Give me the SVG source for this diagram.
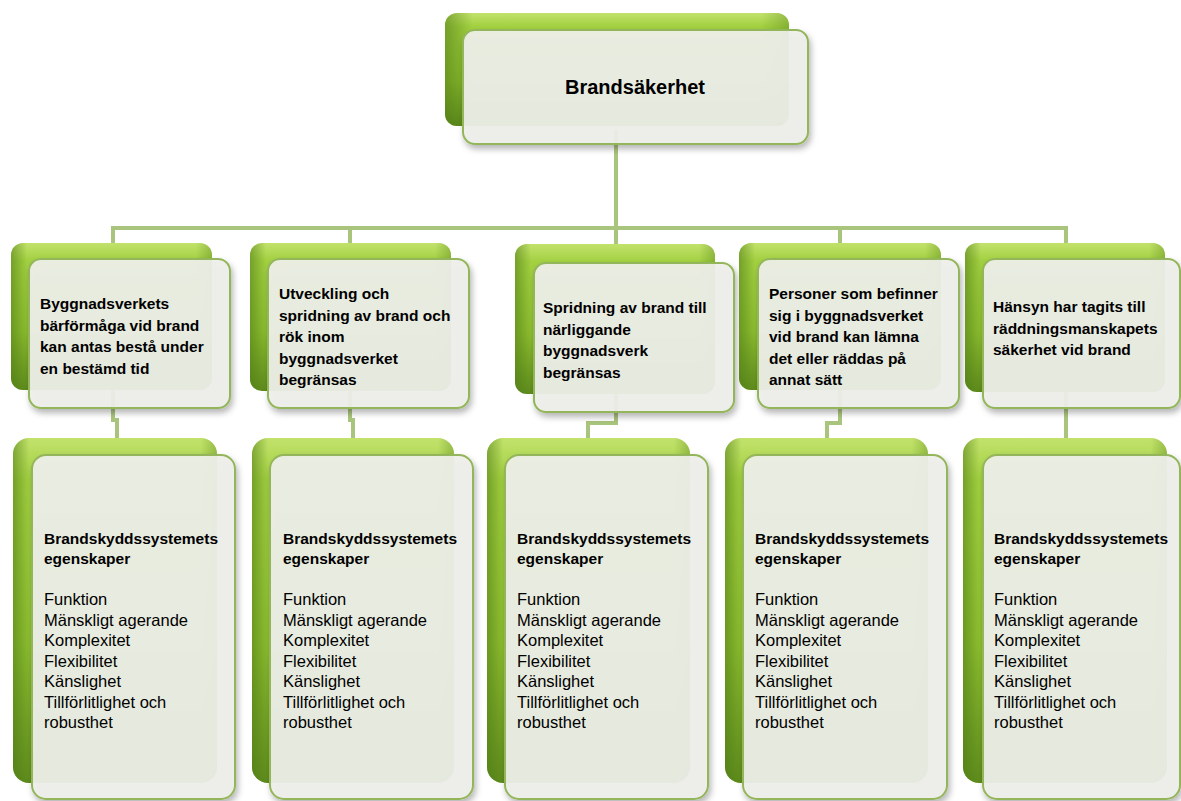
<svg xmlns="http://www.w3.org/2000/svg" width="1181" height="801" viewBox="0 0 1181 801">
<defs>
<linearGradient id="gBack" x1="0" y1="0" x2="0" y2="1">
<stop offset="0" stop-color="#c2e26c"/>
<stop offset="0.12" stop-color="#a2d040"/>
<stop offset="0.6" stop-color="#8cbd2f"/>
<stop offset="1" stop-color="#5f8c1d"/>
</linearGradient>
<linearGradient id="gSide" x1="0" y1="0" x2="1" y2="0">
<stop offset="0" stop-color="#4e7a14" stop-opacity="0.55"/>
<stop offset="0.08" stop-color="#4e7a14" stop-opacity="0"/>
<stop offset="0.92" stop-color="#4e7a14" stop-opacity="0"/>
<stop offset="1" stop-color="#4e7a14" stop-opacity="0.35"/>
</linearGradient>
<filter id="sh" x="-10%" y="-10%" width="130%" height="130%">
<feDropShadow dx="2" dy="4" stdDeviation="3" flood-color="#000" flood-opacity="0.3"/>
</filter>
<style>
.back{fill:url(#gBack);}
.side{fill:url(#gSide);}
.front{fill:#eff0eb;fill-opacity:0.93;stroke:#94b65a;stroke-width:2;filter:url(#sh);}
.conn{fill:none;stroke:#a9c47c;stroke-width:4;}
.t{font-family:"Liberation Sans",Arial,sans-serif;font-weight:bold;font-size:15.5px;fill:#000;}
.tr{font-family:"Liberation Sans",Arial,sans-serif;font-size:16.5px;fill:#000;}
.title{font-family:"Liberation Sans",Arial,sans-serif;font-weight:bold;font-size:20px;fill:#000;}
</style>
</defs>
<rect width="1181" height="801" fill="#ffffff"/>

<g id="connectors">
<path class="conn" d="M616,130 V228"/>
<path class="conn" d="M113,245 V228 H1066 V245"/>
<path class="conn" d="M350,228 V245"/>
<path class="conn" d="M616,228 V246"/>
<path class="conn" d="M840,228 V245"/>
<path class="conn" d="M113,390 V420 H117 V440"/>
<path class="conn" d="M350,390 V420 H353 V440"/>
<path class="conn" d="M616,394 V423 H588 V440"/>
<path class="conn" d="M840,390 V423 H827 V440"/>
<path class="conn" d="M1066,392 V440"/>
</g>

<g id="node-top">
<rect class="back" x="445" y="13" width="344" height="113" rx="12"/>
<rect class="side" x="445" y="13" width="344" height="113" rx="12"/>
<rect class="front" x="463" y="30" width="345" height="114" rx="12"/>
<text class="title" x="635" y="94" text-anchor="middle">Brandsäkerhet</text>
</g>

<g id="node-1">
<rect class="back" x="11" y="243" width="201" height="147" rx="12"/>
<rect class="side" x="11" y="243" width="201" height="147" rx="12"/>
<rect class="front" x="29" y="259" width="201" height="149" rx="12"/>
<text class="t" x="40" y="309">Byggnadsverkets</text>
<text class="t" x="40" y="330.5">bärförmåga vid brand</text>
<text class="t" x="40" y="352">kan antas bestå under</text>
<text class="t" x="40" y="373.5">en bestämd tid</text>
</g>

<g id="node-2">
<rect class="back" x="250" y="243" width="201" height="148" rx="12"/>
<rect class="side" x="250" y="243" width="201" height="148" rx="12"/>
<rect class="front" x="268" y="259" width="201" height="149" rx="12"/>
<text class="t" x="279" y="299">Utveckling och</text>
<text class="t" x="279" y="320.5">spridning av brand och</text>
<text class="t" x="279" y="342">rök inom</text>
<text class="t" x="279" y="363.5">byggnadsverket</text>
<text class="t" x="279" y="385">begränsas</text>
</g>

<g id="node-3">
<rect class="back" x="515" y="244" width="200" height="150" rx="12"/>
<rect class="side" x="515" y="244" width="200" height="150" rx="12"/>
<rect class="front" x="534" y="263" width="200" height="149" rx="12"/>
<text class="t" x="543" y="313">Spridning av brand till</text>
<text class="t" x="543" y="334.5">närliggande</text>
<text class="t" x="543" y="356">byggnadsverk</text>
<text class="t" x="543" y="377.5">begränsas</text>
</g>

<g id="node-4">
<rect class="back" x="739" y="243" width="202" height="147" rx="12"/>
<rect class="side" x="739" y="243" width="202" height="147" rx="12"/>
<rect class="front" x="758" y="259" width="201" height="149" rx="12"/>
<text class="t" x="769" y="299">Personer som befinner</text>
<text class="t" x="769" y="320.5">sig i byggnadsverket</text>
<text class="t" x="769" y="342">vid brand kan lämna</text>
<text class="t" x="769" y="363.5">det eller räddas på</text>
<text class="t" x="769" y="385">annat sätt</text>
</g>

<g id="node-5">
<rect class="back" x="965" y="243" width="200" height="149" rx="12"/>
<rect class="side" x="965" y="243" width="200" height="149" rx="12"/>
<rect class="front" x="983" y="259" width="197" height="149" rx="12"/>
<text class="t" x="993" y="312">Hänsyn har tagits till</text>
<text class="t" x="993" y="333.5">räddningsmanskapets</text>
<text class="t" x="993" y="355">säkerhet vid brand</text>
</g>

<g id="node-b1">
<rect class="back" x="13" y="438" width="204" height="345" rx="16"/>
<rect class="side" x="13" y="438" width="204" height="345" rx="16"/>
<rect class="front" x="32" y="455" width="203" height="344" rx="14"/>
<text class="t" x="44" y="544">Brandskyddssystemets</text>
<text class="t" x="44" y="564">egenskaper</text>
<text class="tr" x="44" y="605">Funktion</text>
<text class="tr" x="44" y="625.5">Mänskligt agerande</text>
<text class="tr" x="44" y="646">Komplexitet</text>
<text class="tr" x="44" y="666.5">Flexibilitet</text>
<text class="tr" x="44" y="687">Känslighet</text>
<text class="tr" x="44" y="707.5">Tillförlitlighet och</text>
<text class="tr" x="44" y="728">robusthet</text>
</g>

<g id="node-b2">
<rect class="back" x="252" y="438" width="202" height="345" rx="16"/>
<rect class="side" x="252" y="438" width="202" height="345" rx="16"/>
<rect class="front" x="270" y="455" width="203" height="344" rx="14"/>
<text class="t" x="283" y="544">Brandskyddssystemets</text>
<text class="t" x="283" y="564">egenskaper</text>
<text class="tr" x="283" y="605">Funktion</text>
<text class="tr" x="283" y="625.5">Mänskligt agerande</text>
<text class="tr" x="283" y="646">Komplexitet</text>
<text class="tr" x="283" y="666.5">Flexibilitet</text>
<text class="tr" x="283" y="687">Känslighet</text>
<text class="tr" x="283" y="707.5">Tillförlitlighet och</text>
<text class="tr" x="283" y="728">robusthet</text>
</g>

<g id="node-b3">
<rect class="back" x="487" y="438" width="203" height="345" rx="16"/>
<rect class="side" x="487" y="438" width="203" height="345" rx="16"/>
<rect class="front" x="505" y="455" width="203" height="344" rx="14"/>
<text class="t" x="517" y="544">Brandskyddssystemets</text>
<text class="t" x="517" y="564">egenskaper</text>
<text class="tr" x="517" y="605">Funktion</text>
<text class="tr" x="517" y="625.5">Mänskligt agerande</text>
<text class="tr" x="517" y="646">Komplexitet</text>
<text class="tr" x="517" y="666.5">Flexibilitet</text>
<text class="tr" x="517" y="687">Känslighet</text>
<text class="tr" x="517" y="707.5">Tillförlitlighet och</text>
<text class="tr" x="517" y="728">robusthet</text>
</g>

<g id="node-b4">
<rect class="back" x="725" y="438" width="203" height="345" rx="16"/>
<rect class="side" x="725" y="438" width="203" height="345" rx="16"/>
<rect class="front" x="743" y="455" width="204" height="344" rx="14"/>
<text class="t" x="755" y="544">Brandskyddssystemets</text>
<text class="t" x="755" y="564">egenskaper</text>
<text class="tr" x="755" y="605">Funktion</text>
<text class="tr" x="755" y="625.5">Mänskligt agerande</text>
<text class="tr" x="755" y="646">Komplexitet</text>
<text class="tr" x="755" y="666.5">Flexibilitet</text>
<text class="tr" x="755" y="687">Känslighet</text>
<text class="tr" x="755" y="707.5">Tillförlitlighet och</text>
<text class="tr" x="755" y="728">robusthet</text>
</g>

<g id="node-b5">
<rect class="back" x="963" y="438" width="204" height="345" rx="16"/>
<rect class="side" x="963" y="438" width="204" height="345" rx="16"/>
<rect class="front" x="983" y="455" width="197" height="344" rx="14"/>
<text class="t" x="994" y="544">Brandskyddssystemets</text>
<text class="t" x="994" y="564">egenskaper</text>
<text class="tr" x="994" y="605">Funktion</text>
<text class="tr" x="994" y="625.5">Mänskligt agerande</text>
<text class="tr" x="994" y="646">Komplexitet</text>
<text class="tr" x="994" y="666.5">Flexibilitet</text>
<text class="tr" x="994" y="687">Känslighet</text>
<text class="tr" x="994" y="707.5">Tillförlitlighet och</text>
<text class="tr" x="994" y="728">robusthet</text>
</g>
</svg>
